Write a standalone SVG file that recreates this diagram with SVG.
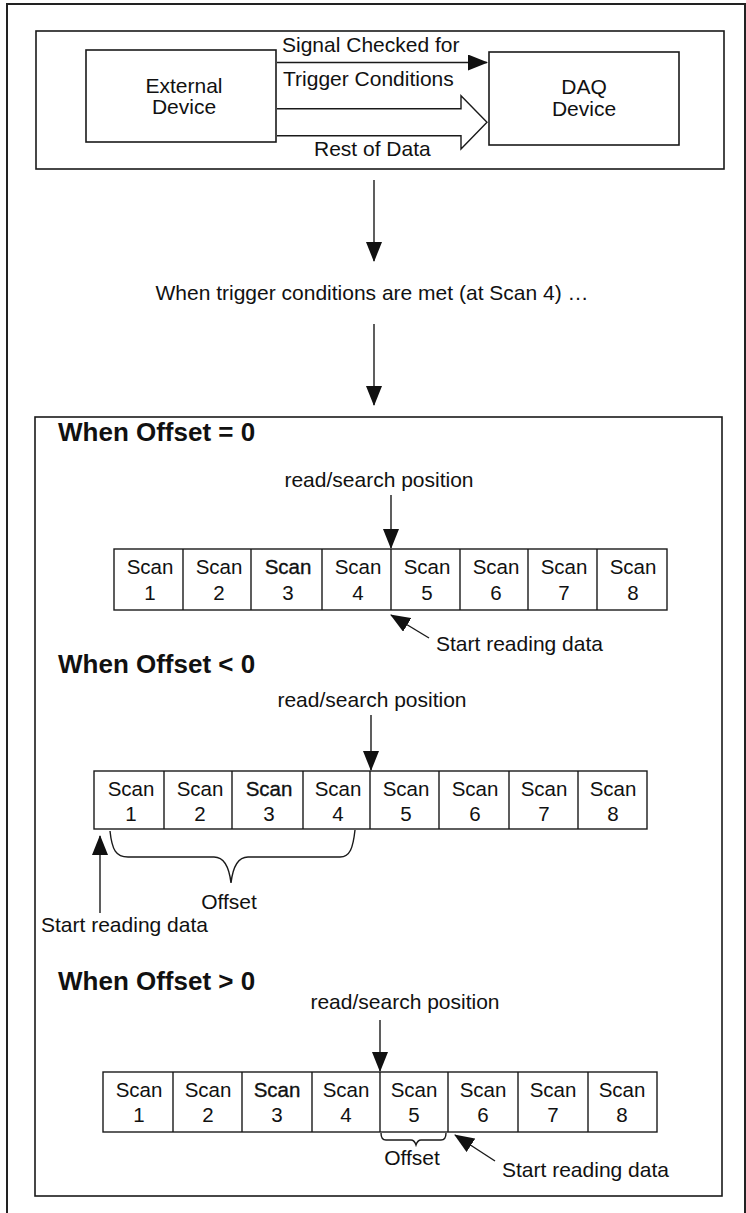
<svg xmlns="http://www.w3.org/2000/svg" width="746" height="1213" viewBox="0 0 746 1213">
<style>
text{font-family:"Liberation Sans",Arial,Helvetica,sans-serif;fill:#111}
.t{font-size:21px}
.s{font-size:20.5px;text-anchor:middle}
.b{stroke:#111;stroke-width:0.35}
.h{font-size:26px;font-weight:bold}
.m{text-anchor:middle}
.box{fill:none;stroke:#1a1a1a;stroke-width:1.6}
.ln{fill:none;stroke:#1a1a1a;stroke-width:1.4}
.frame{fill:none;stroke:#222;stroke-width:2}
</style>
<defs>
<marker id="ah" viewBox="0 0 20 16" markerWidth="20" markerHeight="16" refX="19" refY="8" orient="auto" markerUnits="userSpaceOnUse">
<path d="M0,0 L20,8 L0,16 Z" fill="#111"/>
</marker>
</defs>
<rect class="frame" x="7" y="4" width="738" height="1212"/>
<g id="top-panel">
<rect class="box" x="36" y="31" width="688" height="138"/>
</g>
<g id="external-device">
<rect class="box" x="86" y="50" width="190" height="92"/>
<text class="t m" x="184" y="93">External</text>
<text class="t m" x="184" y="114">Device</text>
</g>
<g id="daq-device">
<rect class="box" x="489" y="52" width="190" height="93"/>
<text class="t m" x="584" y="94">DAQ</text>
<text class="t m" x="584" y="116">Device</text>
</g>
<g id="connectors">
<line class="ln" x1="277" y1="62.5" x2="487" y2="62.5" marker-end="url(#ah)"/>
<path class="ln" d="M277,108.7 L461,108.7 L461,95.7 L487,122.3 L461,149 L461,135.7 L277,135.7"/>
<line class="ln" x1="374" y1="180" x2="374" y2="261" marker-end="url(#ah)"/>
<line class="ln" x1="374" y1="324" x2="374" y2="405" marker-end="url(#ah)"/>
<line class="ln" x1="391" y1="495" x2="391" y2="548" marker-end="url(#ah)"/>
<line class="ln" x1="429" y1="638" x2="391" y2="615" marker-end="url(#ah)"/>
<line class="ln" x1="371" y1="715" x2="371" y2="770" marker-end="url(#ah)"/>
<line class="ln" x1="100" y1="913" x2="100" y2="836" marker-end="url(#ah)"/>
<line class="ln" x1="380" y1="1020" x2="380" y2="1071" marker-end="url(#ah)"/>
<line class="ln" x1="495" y1="1161" x2="455" y2="1135" marker-end="url(#ah)"/>
</g>
<g id="labels">
<text class="t" x="282" y="52">Signal Checked for</text>
<text class="t" x="283" y="86">Trigger Conditions</text>
<text class="t" x="314" y="156">Rest of Data</text>
<text class="t m" x="372" y="300">When trigger conditions are met (at Scan 4) …</text>
</g>
<g id="bottom-panel">
<rect class="box" x="35" y="417" width="687" height="779"/>
</g>
<g id="offset-zero">
<text class="h" x="58" y="441">When Offset = 0</text>
<text class="t m" x="379" y="487">read/search position</text>
<rect class="ln" x="114" y="549" width="553" height="61"/>
<path class="ln" d="M183,549V610M251,549V610M322,549V610M391,549V610M460,549V610M528,549V610M597,549V610"/>
<g>
<text class="s" x="150" y="574">Scan</text><text class="s" x="150" y="600">1</text>
<text class="s" x="219" y="574">Scan</text><text class="s" x="219" y="600">2</text>
<text class="s b" x="288" y="574">Scan</text><text class="s" x="288" y="600">3</text>
<text class="s" x="358" y="574">Scan</text><text class="s" x="358" y="600">4</text>
<text class="s" x="427" y="574">Scan</text><text class="s" x="427" y="600">5</text>
<text class="s" x="496" y="574">Scan</text><text class="s" x="496" y="600">6</text>
<text class="s" x="564" y="574">Scan</text><text class="s" x="564" y="600">7</text>
<text class="s" x="633" y="574">Scan</text><text class="s" x="633" y="600">8</text>
</g>
<text class="t" x="436" y="651">Start reading data</text>
</g>
<g id="offset-negative">
<text class="h" x="58" y="673">When Offset &lt; 0</text>
<text class="t m" x="372" y="707">read/search position</text>
<rect class="ln" x="94" y="771" width="553" height="58"/>
<path class="ln" d="M164,771V829M232,771V829M303,771V829M370,771V829M439,771V829M509,771V829M578,771V829"/>
<g>
<text class="s" x="131" y="796">Scan</text><text class="s" x="131" y="821">1</text>
<text class="s" x="200" y="796">Scan</text><text class="s" x="200" y="821">2</text>
<text class="s b" x="269" y="796">Scan</text><text class="s" x="269" y="821">3</text>
<text class="s" x="338" y="796">Scan</text><text class="s" x="338" y="821">4</text>
<text class="s" x="406" y="796">Scan</text><text class="s" x="406" y="821">5</text>
<text class="s" x="475" y="796">Scan</text><text class="s" x="475" y="821">6</text>
<text class="s" x="544" y="796">Scan</text><text class="s" x="544" y="821">7</text>
<text class="s" x="613" y="796">Scan</text><text class="s" x="613" y="821">8</text>
</g>
<path class="ln" stroke-width="2" d="M110,831 C112,850 116,857 128,857 L214,857 C224,857 229,866 231,883 C233,866 238,857 248,857 L340,857 C350,857 353,848 355,830"/>
<text class="t m" x="229" y="909">Offset</text>
<text class="t" x="41" y="932">Start reading data</text>
</g>
<g id="offset-positive">
<text class="h" x="58" y="990">When Offset &gt; 0</text>
<text class="t m" x="405" y="1009">read/search position</text>
<rect class="ln" x="103" y="1072" width="554" height="60"/>
<path class="ln" d="M173,1072V1132M242,1072V1132M312,1072V1132M380,1072V1132M448,1072V1132M518,1072V1132M588,1072V1132"/>
<g>
<text class="s" x="139" y="1097">Scan</text><text class="s" x="139" y="1122">1</text>
<text class="s" x="208" y="1097">Scan</text><text class="s" x="208" y="1122">2</text>
<text class="s b" x="277" y="1097">Scan</text><text class="s" x="277" y="1122">3</text>
<text class="s" x="346" y="1097">Scan</text><text class="s" x="346" y="1122">4</text>
<text class="s" x="414" y="1097">Scan</text><text class="s" x="414" y="1122">5</text>
<text class="s" x="483" y="1097">Scan</text><text class="s" x="483" y="1122">6</text>
<text class="s" x="553" y="1097">Scan</text><text class="s" x="553" y="1122">7</text>
<text class="s" x="622" y="1097">Scan</text><text class="s" x="622" y="1122">8</text>
</g>
<path class="ln" stroke-width="1.6" d="M381,1133 C381,1138 383,1140 386,1140 L411,1140 C414,1140 415,1142 416,1145 C417,1142 418,1140 421,1140 L441,1140 C444,1140 446,1138 446,1133"/>
<text class="t m" x="412" y="1165">Offset</text>
<text class="t" x="502" y="1177">Start reading data</text>
</g>
</svg>
